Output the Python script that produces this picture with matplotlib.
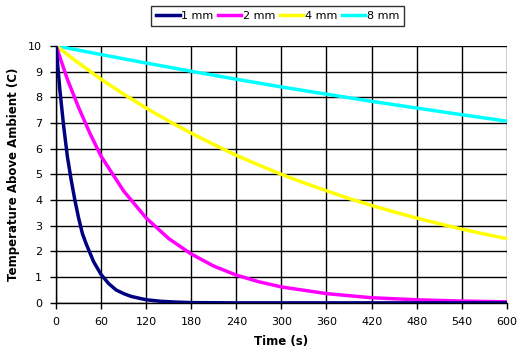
import matplotlib
matplotlib.use("Agg")
from matplotlib import pyplot as plt

# values
t_1mm = [0, 5, 10, 15, 20, 25, 30, 35, 40, 50, 60, 70, 80, 90, 100, 120, 140, 160, 180, 240, 300, 360, 420, 480, 540, 600]
T_1mm = [10, 8.3, 6.9, 5.7, 4.8, 4.0, 3.3, 2.7, 2.3, 1.6, 1.1, 0.75, 0.5, 0.36, 0.25, 0.12, 0.06, 0.03, 0.01, 0, 0, 0, 0, 0, 0, 0]

t_2mm = [0, 15, 30, 45, 60, 90, 120, 150, 180, 210, 240, 270, 300, 360, 420, 480, 540, 600]
T_2mm = [10, 8.7, 7.6, 6.6, 5.7, 4.35, 3.3, 2.5, 1.9, 1.43, 1.08, 0.82, 0.62, 0.36, 0.2, 0.12, 0.07, 0.04]

t_4mm = [0, 30, 60, 90, 120, 150, 180, 210, 240, 270, 300, 330, 360, 390, 420, 450, 480, 510, 540, 570, 600]
T_4mm = [10, 9.33, 8.7, 8.12, 7.58, 7.07, 6.6, 6.16, 5.74, 5.36, 5.0, 4.67, 4.36, 4.06, 3.79, 3.54, 3.3, 3.08, 2.87, 2.68, 2.5]

t_8mm = [0, 60, 120, 180, 240, 300, 360, 420, 480, 540, 600]
T_8mm = [10, 9.66, 9.33, 9.01, 8.7, 8.4, 8.12, 7.84, 7.58, 7.32, 7.07]

xticks = list(range(0, 601, 60))
yticks = list(range(0, 11))

plt.rcParams['font.family'] = ['DejaVu Sans']

fig = plt.figure(figsize=(5.29, 3.58), dpi=100)
ax = fig.add_axes([0.106, 0.154, 0.852, 0.718])

ax.plot(t_1mm, T_1mm, color='#000080', lw=2.5, label='1 mm', zorder=5)
ax.plot(t_2mm, T_2mm, color='#ff00ff', lw=2.5, label='2 mm', zorder=4)
ax.plot(t_4mm, T_4mm, color='#ffff00', lw=2.5, label='4 mm', zorder=3)
ax.plot(t_8mm, T_8mm, color='#00ffff', lw=2.5, label='8 mm', zorder=2)

ax.set_xlim(0, 600)
ax.set_ylim(0, 10)
ax.set_xticks(xticks)
ax.set_yticks(yticks)
ax.grid(True, color='black', lw=1)
ax.set_axisbelow(True)
for s in ['top', 'right']:
    ax.spines[s].set_visible(False)
for s in ['left', 'bottom']:
    ax.spines[s].set_linewidth(1)
ax.tick_params(labelsize=8, length=4, width=1, direction='out', pad=6)

ax.set_xlabel('Time (s)', fontsize=8.5, fontweight='bold', labelpad=6)
ax.set_ylabel('Temperature Above Ambient (C)', fontsize=8.5, fontweight='bold', labelpad=6)

leg = ax.legend(loc='center', bbox_to_anchor=(0.492, 1.115), ncol=4, fontsize=8,
                frameon=True, fancybox=False, edgecolor='black', handlelength=2.1,
                handletextpad=0.15, columnspacing=0.4, borderpad=0.45, borderaxespad=0)
leg.get_frame().set_linewidth(1)

fig.savefig('out.png', dpi=100)
